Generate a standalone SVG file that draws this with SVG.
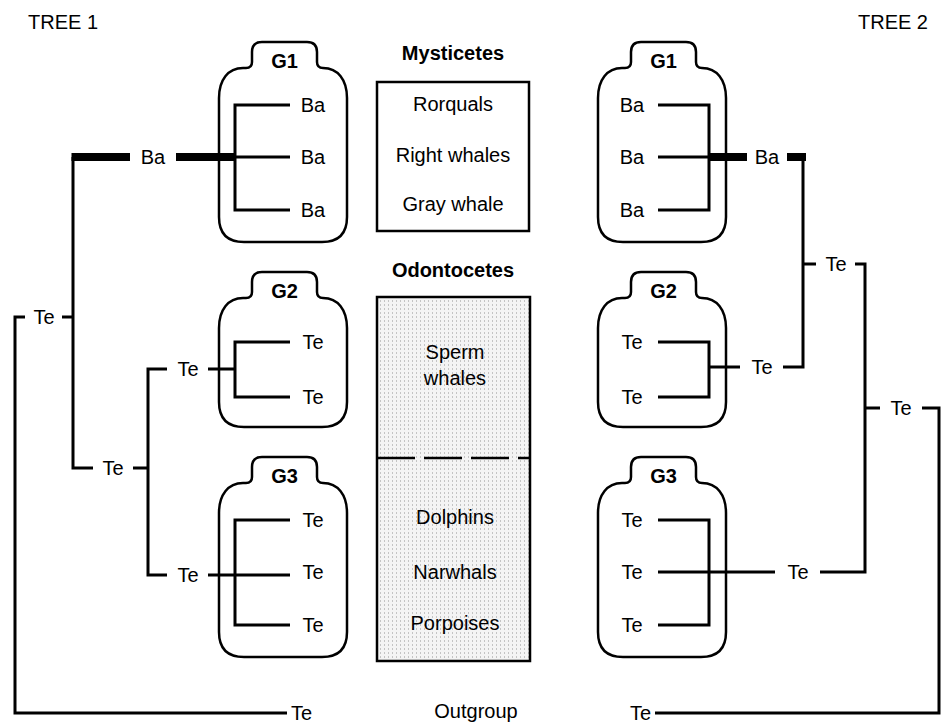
<svg xmlns="http://www.w3.org/2000/svg" xmlns:xlink="http://www.w3.org/1999/xlink" width="942" height="724" viewBox="0 0 942 724">
<style>
text{font-family:"Liberation Sans",Arial,sans-serif;font-size:20px;fill:#000}
.b{font-weight:bold}
.m{text-anchor:middle}
.e{text-anchor:end}
.bottle{fill:none;stroke:#000;stroke-width:2.5}
.ln{fill:none;stroke:#000;stroke-width:3}
.thick{fill:none;stroke:#000;stroke-width:8}
.box{stroke:#000;stroke-width:2.5}
</style>
<defs>
<path id="bottleTall" d="M33,20 V10 Q33,0 43,0 H88 Q98,0 98,10 V20 Q98,26 104,26 C119,26 128,38 128,56 V175 Q128,200 103,200 H25 Q0,200 0,175 V56 C0,38 9,26 24,26 H27 Q33,26 33,20 Z"/>
<path id="bottleShort" d="M33,20 V10 Q33,0 43,0 H88 Q98,0 98,10 V20 Q98,26 104,26 C119,26 128,38 128,56 V130 Q128,155 103,155 H25 Q0,155 0,130 V56 C0,38 9,26 24,26 H27 Q33,26 33,20 Z"/>
<pattern id="stip" width="4" height="4" patternUnits="userSpaceOnUse"><rect width="4" height="4" fill="#f4f4f4"/><rect x="0" y="0" width="1" height="2" fill="#c4c4c4"/></pattern>
</defs>
<rect width="942" height="724" fill="#fff"/>
<text x="28" y="29">TREE 1</text>
<text class="e" x="928" y="29">TREE 2</text>

<g id="mysticetes">
<text class="b m" x="453" y="60">Mysticetes</text>
<rect class="box" x="377" y="82" width="152" height="149" fill="#fff"/>
<text class="m" x="453" y="111">Rorquals</text>
<text class="m" x="453" y="162">Right whales</text>
<text class="m" x="453" y="211">Gray whale</text>
</g>
<g id="odontocetes">
<text class="b m" x="453" y="277">Odontocetes</text>
<rect class="box" x="377" y="297" width="153" height="364" fill="url(#stip)"/>
<line x1="377" y1="458" x2="530" y2="458" stroke="#000" stroke-width="2.5" stroke-dasharray="38 9"/>
<text class="m" x="455" y="359">Sperm</text>
<text class="m" x="455" y="385">whales</text>
<text class="m" x="455" y="524">Dolphins</text>
<text class="m" x="455" y="579">Narwhals</text>
<text class="m" x="455" y="630">Porpoises</text>
</g>
<g id="outgroup"><text class="m" x="476" y="718">Outgroup</text></g>

<g id="t1-G1">
<use xlink:href="#bottleTall" href="#bottleTall" class="bottle" transform="translate(219,42)"/>
<text class="b m" x="284.5" y="68">G1</text>
<text class="m" x="313" y="112">Ba</text><text class="m" x="313" y="164">Ba</text><text class="m" x="313" y="217">Ba</text>
</g>
<g id="t1-G2">
<use xlink:href="#bottleShort" href="#bottleShort" class="bottle" transform="translate(219,272)"/>
<text class="b m" x="284.5" y="298">G2</text>
<text class="m" x="313" y="349">Te</text><text class="m" x="313" y="404">Te</text>
</g>
<g id="t1-G3">
<use xlink:href="#bottleTall" href="#bottleTall" class="bottle" transform="translate(219,457)"/>
<text class="b m" x="284.5" y="483">G3</text>
<text class="m" x="313" y="527">Te</text><text class="m" x="313" y="579">Te</text><text class="m" x="313" y="632">Te</text>
</g>
<g id="t2-G1">
<use xlink:href="#bottleTall" href="#bottleTall" class="bottle" transform="translate(598,42)"/>
<text class="b m" x="663.5" y="68">G1</text>
<text class="m" x="632" y="112">Ba</text><text class="m" x="632" y="164">Ba</text><text class="m" x="632" y="217">Ba</text>
</g>
<g id="t2-G2">
<use xlink:href="#bottleShort" href="#bottleShort" class="bottle" transform="translate(598,272)"/>
<text class="b m" x="663.5" y="298">G2</text>
<text class="m" x="632" y="349">Te</text><text class="m" x="632" y="404">Te</text>
</g>
<g id="t2-G3">
<use xlink:href="#bottleTall" href="#bottleTall" class="bottle" transform="translate(598,457)"/>
<text class="b m" x="663.5" y="483">G3</text>
<text class="m" x="632" y="527">Te</text><text class="m" x="632" y="579">Te</text><text class="m" x="632" y="632">Te</text>
</g>

<g id="connectors">
<path class="thick" d="M71.5,157 H130 M176,157 H235 M709,157 H747 M787,157 H806"/>
<path class="ln" d="M290,105 H235 V210 H290 M235,157 H290 M62,317 H73 M73,157 V468 H93 M25,317 H15 V713 H287 M133,468 H148 M167,369 H148 V575 H167 M208,369 H235 M290,342 H235 V397 H290 M208,575 H290 M290,520 H235 V625 H290"/>
<path class="ln" d="M658,105 H709 V210 H658 M658,157 H709 M803,153 V367 H783 M803,264 H816 M855,264 H865 V572 H820 M709,367 H740 M658,342 H709 V397 H658 M865,408 H880 M922,408 H939 V713 H655 M658,520 H709 V625 H658 M658,572 H775"/>
</g>

<g id="t1-nodes">
<text class="m" x="153" y="164">Ba</text>
<text class="m" x="44" y="324">Te</text>
<text class="m" x="113" y="475">Te</text>
<text class="m" x="188" y="376">Te</text>
<text class="m" x="188" y="582">Te</text>
<text x="291" y="720">Te</text>
</g>
<g id="t2-nodes">
<text class="m" x="767" y="164">Ba</text>
<text class="m" x="836" y="271">Te</text>
<text class="m" x="762" y="374">Te</text>
<text class="m" x="901" y="415">Te</text>
<text class="m" x="798" y="579">Te</text>
<text class="e" x="651" y="720">Te</text>
</g>
</svg>
